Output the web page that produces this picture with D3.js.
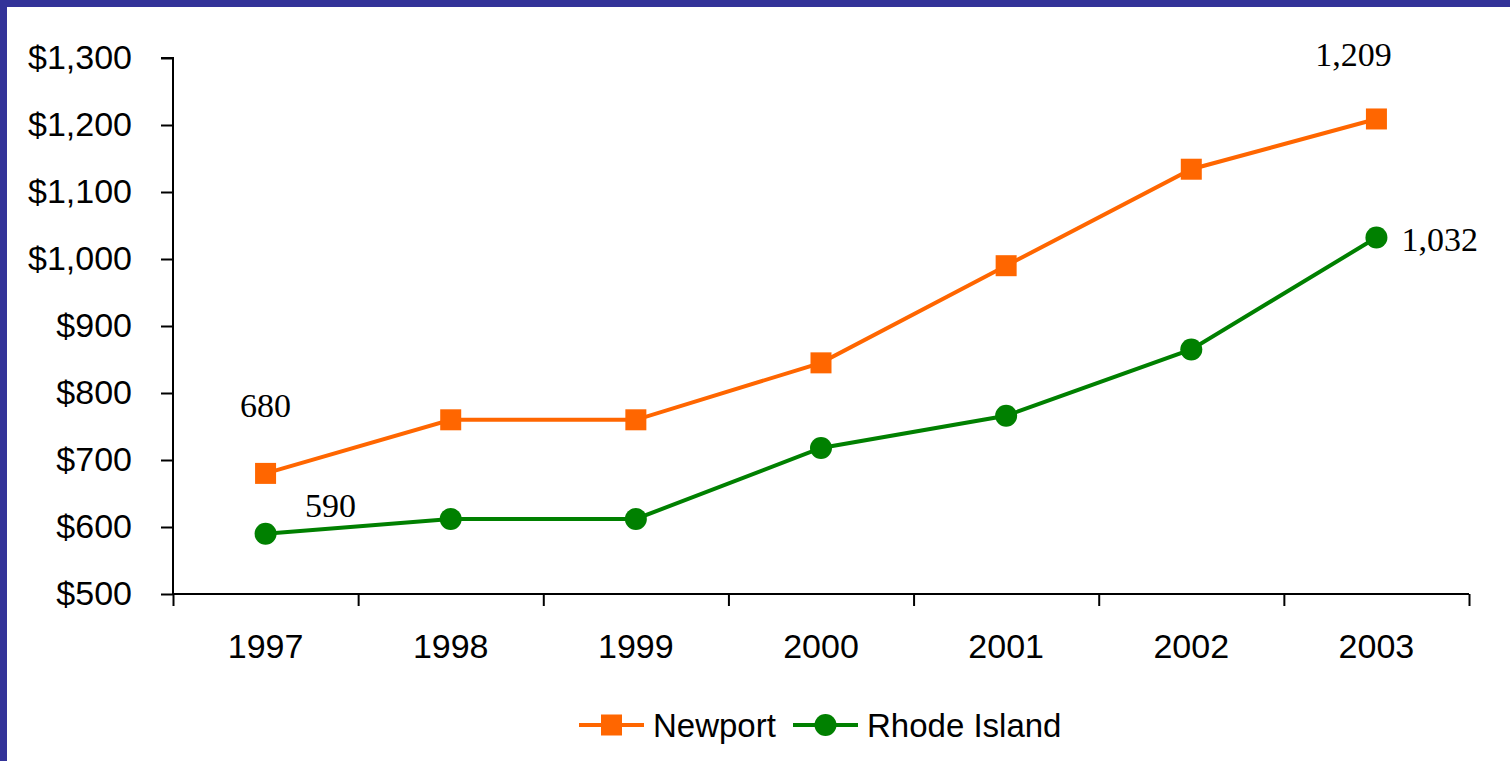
<!DOCTYPE html>
<html><head><meta charset="utf-8">
<script src="https://cdn.jsdelivr.net/npm/d3@7"></script>
<style>
html,body{margin:0;padding:0;background:#fff;}
svg{display:block;}
</style></head>
<body>
<svg id="chart" width="1510" height="761"></svg>
<script>
const years = ["1997","1998","1999","2000","2001","2002","2003"];
const newport = [680, 760, 760, 845, 990, 1134, 1209];
const rhodeIsland = [590, 612, 612, 718, 766, 865, 1032];
const yTicks = [500, 600, 700, 800, 900, 1000, 1100, 1200, 1300];
const seriesNames = ["Newport", "Rhode Island"];

const svg = d3.select("#chart");
const W = 1510, H = 761;
svg.append("rect").attr("width", W).attr("height", H).attr("fill", "#333399");
svg.append("rect").attr("x", 7).attr("y", 7).attr("width", W - 7).attr("height", H - 7).attr("fill", "#ffffff");

const x = d3.scaleBand().domain(years).range([173, 1469]).padding(0);
const y = d3.scaleLinear().domain([500, 1300]).range([594, 58]);
const cx = d => x(d) + x.bandwidth() / 2;

// Y axis
const yAxis = d3.axisLeft(y).tickValues(yTicks).tickSize(12).tickPadding(29)
  .tickFormat(d => "$" + d3.format(",")(d));
const gy = svg.append("g").attr("transform", "translate(173,0)").call(yAxis);
gy.select(".domain").attr("stroke", "#000").attr("stroke-width", 2).attr("d", `M-12,${y(1300)}H0V${y(500)}`);
gy.selectAll(".tick line").attr("stroke", "#000").attr("stroke-width", 2);
gy.selectAll(".tick text").attr("font-family", "Liberation Sans, Arial, sans-serif").attr("font-size", 34).attr("fill", "#000");

// X axis
const xb = d3.scaleLinear().domain([0, years.length]).range([173, 1469]);
const xAxis = d3.axisBottom(xb).tickValues(d3.range(0, years.length + 1)).tickSize(12).tickFormat("");
const gx = svg.append("g").attr("transform", `translate(0,${y(500)})`).call(xAxis);
gx.select(".domain").attr("stroke", "#000").attr("stroke-width", 2).attr("d", `M173,0H1469`);
gx.selectAll(".tick line").attr("stroke", "#000").attr("stroke-width", 2);
svg.append("g").selectAll("text").data(years).join("text")
  .attr("x", d => cx(d)).attr("y", y(500) + 64)
  .attr("text-anchor", "middle")
  .attr("font-family", "Liberation Sans, Arial, sans-serif").attr("font-size", 34).attr("fill", "#000")
  .text(d => d);

const line = d3.line().x((d, i) => cx(years[i])).y(d => y(d));
const orange = "#FF6600", green = "#008000";

svg.append("path").datum(newport).attr("d", line).attr("fill", "none").attr("stroke", orange).attr("stroke-width", 4);
svg.append("path").datum(rhodeIsland).attr("d", line).attr("fill", "none").attr("stroke", green).attr("stroke-width", 4);

const sq = 21;
svg.append("g").selectAll("rect").data(newport).join("rect")
  .attr("x", (d, i) => cx(years[i]) - sq / 2).attr("y", d => y(d) - sq / 2)
  .attr("width", sq).attr("height", sq).attr("fill", orange);
svg.append("g").selectAll("circle").data(rhodeIsland).join("circle")
  .attr("cx", (d, i) => cx(years[i])).attr("cy", d => y(d)).attr("r", 11).attr("fill", green);

// Data labels (first and last point of each series)
const fmt = d3.format(",");
const labels = [
  {v: newport[0], i: 0, dx: 0, dy: -56, anchor: "middle"},
  {v: rhodeIsland[0], i: 0, dx: 65, dy: -17, anchor: "middle"},
  {v: newport[6], i: 6, dx: -23, dy: -53, anchor: "middle"},
  {v: rhodeIsland[6], i: 6, dx: 25, dy: 13, anchor: "start"}
];
svg.append("g").selectAll("text").data(labels).join("text")
  .attr("x", d => cx(years[d.i]) + d.dx).attr("y", d => y(d.v) + d.dy)
  .attr("text-anchor", d => d.anchor)
  .attr("font-family", "Liberation Serif, Times New Roman, serif").attr("font-size", 34).attr("fill", "#000")
  .text(d => fmt(d.v));

// Legend
const lg = svg.append("g");
const legendY = 725;
lg.append("line").attr("x1", 579).attr("x2", 644).attr("y1", legendY).attr("y2", legendY).attr("stroke", orange).attr("stroke-width", 4);
lg.append("rect").attr("x", 611.5 - sq / 2).attr("y", legendY - sq / 2).attr("width", sq).attr("height", sq).attr("fill", orange);
lg.append("text").attr("x", 653).attr("y", legendY + 12).attr("font-family", "Liberation Sans, Arial, sans-serif").attr("font-size", 33).text(seriesNames[0]);
lg.append("line").attr("x1", 793).attr("x2", 858).attr("y1", legendY).attr("y2", legendY).attr("stroke", green).attr("stroke-width", 4);
lg.append("circle").attr("cx", 825.5).attr("cy", legendY).attr("r", 11).attr("fill", green);
lg.append("text").attr("x", 867).attr("y", legendY + 12).attr("font-family", "Liberation Sans, Arial, sans-serif").attr("font-size", 33).text(seriesNames[1]);
</script>
</body></html>
